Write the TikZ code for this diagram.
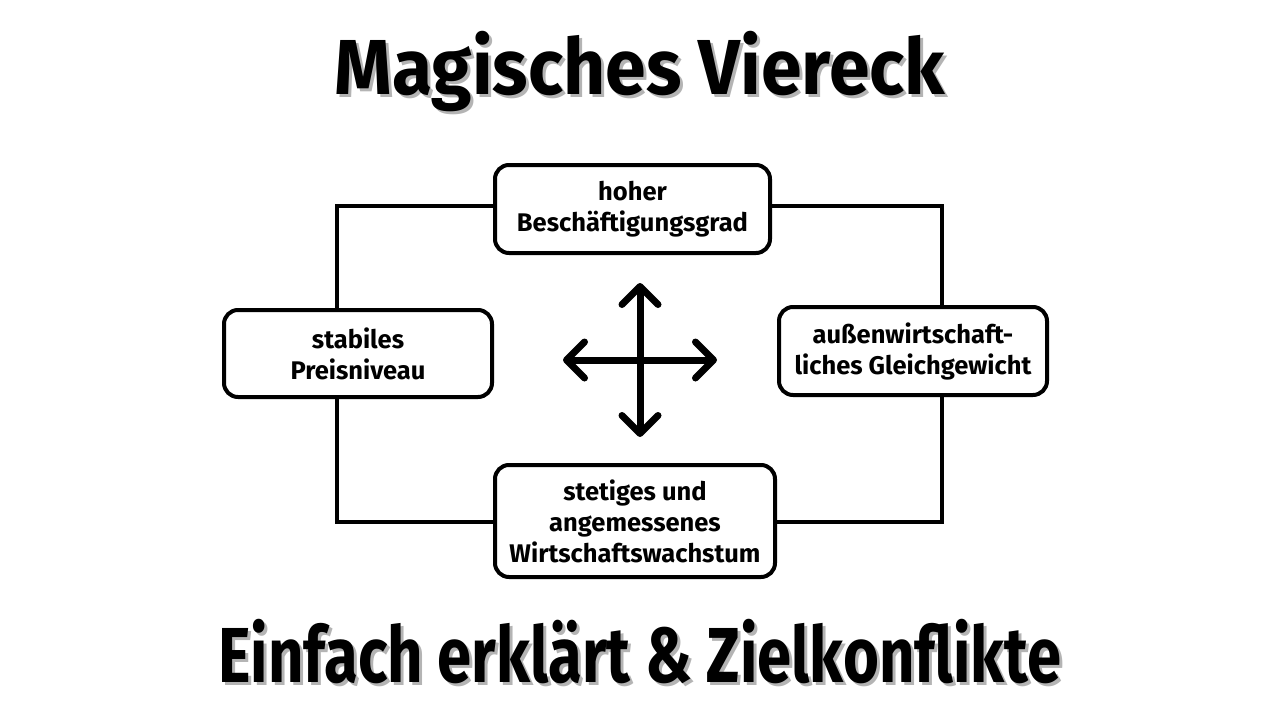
\documentclass[tikz,border=0pt]{standalone}
\usepackage{fontspec}
\setmainfont{Fira Sans}
\newfontfamily\headfont{Fira Sans}[FakeStretch=0.94]
\newfontfamily\subheadfont{Fira Sans}[FakeStretch=0.79]
\usepackage{xcolor}
\usetikzlibrary{arrows.meta,positioning,calc}
\definecolor{viereckInk}{HTML}{000000}
\definecolor{viereckShadow}{HTML}{B4B4B4}
\tikzset{
  goalbox/.style={
    rectangle,
    rounded corners=14pt,
    draw=viereckInk,
    fill=white,
    line width=4pt,
    align=center,
    inner sep=0pt,
    font=\fontsize{25.5}{31}\selectfont\bfseries
  },
  frameline/.style={
    line width=4pt,
    draw=viereckInk
  },
  crossarrow/.style={
    {Straight Barb[length=18pt,width=36pt,round]}-{Straight Barb[length=18pt,width=36pt,round]},
    line width=7pt,
    line cap=round,
    draw=viereckInk
  },
  headline/.style={
    font=\fontsize{78}{80}\selectfont\headfont\bfseries
  },
  subheadline/.style={
    font=\fontsize{78}{80}\selectfont\subheadfont\bfseries
  }
}

\begin{document}
\begin{tikzpicture}[x=1pt,y=-1pt]
  \useasboundingbox (0,0) rectangle (1280,720);
  % headlines with shadow
  \node[headline,text=viereckShadow] (titleShadow) at (643,75) {Magisches Viereck};
  \node[headline] (title) at (640,72) {Magisches Viereck};
  \node[subheadline,text=viereckShadow] (subtitleShadow) at (643,655) {Einfach erklärt \& Zielkonflikte};
  \node[subheadline] (subtitle) at (640,652) {Einfach erklärt \& Zielkonflikte};
  % the four goals
  \node[goalbox,minimum width=275pt,minimum height=88pt] (employment) at (632.5,209) {hoher\\Beschäftigungsgrad};
  \node[goalbox,minimum width=268pt,minimum height=87pt] (prices) at (358,353.5) {stabiles\\Preisniveau};
  \node[goalbox,minimum width=268pt,minimum height=88pt] (foreign) at (913,351) {außenwirtschaft-\\liches Gleichgewicht};
  \node[goalbox,minimum width=280pt,minimum height=112pt] (growth) at (635,521) {stetiges und\\angemessenes\\Wirtschaftswachstum};
  % frame corners
  \coordinate (nw) at (337,206);
  \coordinate (ne) at (942,206);
  \coordinate (sw) at (337,522);
  \coordinate (se) at (942,522);
  \draw[frameline] (employment.west |- nw) -- (nw) -- (nw |- prices.north);
  \draw[frameline] (employment.east |- ne) -- (ne) -- (ne |- foreign.north);
  \draw[frameline] (prices.south -| sw) -- (sw) -- (growth.west |- sw);
  \draw[frameline] (foreign.south -| se) -- (se) -- (growth.east |- se);
  % cross of arrows
  \coordinate (hub) at (640,360);
  \draw[crossarrow] ($(hub)+(0,-77)$) -- ($(hub)+(0,77)$);
  \draw[crossarrow] ($(hub)+(-77,0)$) -- ($(hub)+(77,0)$);
\end{tikzpicture}
\end{document}
